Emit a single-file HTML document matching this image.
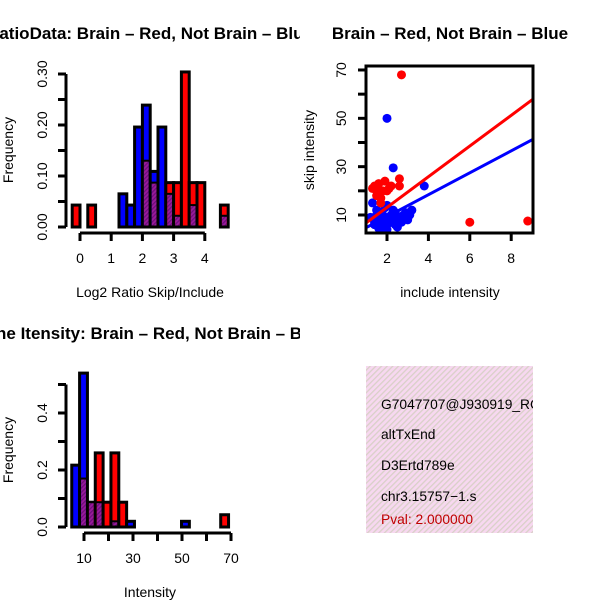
<!DOCTYPE html>
<html><head><meta charset="utf-8"><style>
html,body{margin:0;padding:0;background:#fff;}
svg{display:block;font-family:"Liberation Sans",sans-serif;}
</style></head><body>
<svg id="c" width="600" height="600" viewBox="0 0 600 600">
<defs>
<clipPath id="clipL"><rect x="0" y="0" width="300" height="600"/></clipPath>
<clipPath id="clipP"><rect x="366" y="366" width="167" height="167"/></clipPath>
<clipPath id="clipS"><rect x="366" y="66" width="167" height="167"/></clipPath>
<pattern id="hatch" width="4" height="4" patternUnits="userSpaceOnUse" patternTransform="rotate(45)">
<rect width="4" height="4" fill="#f7d8f0"/><rect width="1.3" height="4" fill="#d9d0c8"/></pattern>
<pattern id="purp" width="3" height="3" patternUnits="userSpaceOnUse" patternTransform="rotate(45)">
<rect width="3" height="3" fill="#9a1a9a"/><rect width="1.2" height="3" fill="#6a0f7a"/></pattern>
</defs>
<g id="g1"></g><g id="g2"></g><g id="g3"></g>
<g>
<rect x="366" y="366" width="167" height="167" fill="url(#hatch)"/>
<g clip-path="url(#clipP)" font-size="13.8">
<text x="381" y="409">G7047707@J930919_RC</text>
<text x="381" y="439">altTxEnd</text>
<text x="381" y="470">D3Ertd789e</text>
<text x="381" y="501">chr3.15757−1.s</text>
<text x="381" y="524" fill="#c00000">Pval: 2.000000</text>
</g></g>
</svg>
<script>
// Ratio histogram (bins of 0.25 starting at -0.25)
const ratioBinStart=-0.25, ratioBinW=0.25;
const ratioRed=[0.043,0,0.043,0,0,0,0,0,0,0.13,0.087,0,0.087,0.087,0.304,0.087,0.087,0,0,0.043];
const ratioBlue=[0,0,0,0,0,0,0.065,0.043,0.196,0.239,0.109,0.196,0.065,0.022,0,0.043,0,0,0,0.022];
const ratioXTicks=[0,1,2,3,4];
const ratioYTicks=[0,0.05,0.10,0.15,0.20,0.25,0.30];
const ratioYLabels=["0.00","","0.10","","0.20","","0.30"];
// Intensity histogram (bins of 3.2 starting at 5)
const intBinStart=5, intBinW=3.2;
const intRed=[0,0.17,0.087,0.26,0.087,0.26,0.087,0,0,0,0,0,0,0,0,0,0,0,0,0.043];
const intBlue=[0.217,0.54,0.087,0.087,0,0.02,0,0.02,0,0,0,0,0,0,0.02,0,0,0,0,0];
const intXTicks=[10,20,30,40,50,60,70];
const intXLabels=["10","","30","","50","","70"];
const intYTicks=[0,0.1,0.2,0.3,0.4,0.5];
const intYLabels=["0.0","","0.2","","0.4",""];
// Scatter
const redX=[2.7,6.0,8.8,2.6,2.6,1.9,1.6,1.4,1.5,1.8,2.1,1.7,1.5,1.7,2.0,1.3,2.2];
const redY=[68,7,7.5,25,22,24,23,22,20,20,21,17,18,15,20,21,22];
const blueX=[2.0,2.3,3.8,3.2,1.3,2.0,1.5,1.7,1.9,2.1,2.2,2.4,2.5,2.6,2.8,3.0,1.4,1.6,1.8,2.0,2.2,2.4,1.2,1.5,1.7,1.9,2.3,2.7,2.9,1.8,2.1,2.5,1.6,2.0,1.4,2.6,3.1];
const blueY=[50,29.5,22,12,15,14,10,8,9,7,10,11,8,9,10,8,7,6,5,6,7,6,9,12,11,13,12,7,11,10,9,5,4.5,4,6,8,10];
const redLine=[[1.0,6.8],[9.05,57.9]];
const blueLine=[[1.0,4.8],[9.05,41.3]];
const scXTicks=[2,4,6,8];
const scYTicks=[10,20,30,40,50,60,70];
const scYLabels=["10","","30","","50","","70"];

const NS="http://www.w3.org/2000/svg";
function mk(p,tag,at){const e=document.createElementNS(NS,tag);for(const k in at)e.setAttribute(k,at[k]);p.appendChild(e);return e;}
function txt(p,x,y,s,at){const e=mk(p,'text',Object.assign({x:x,y:y},at||{}));e.textContent=s;return e;}
const FS='14', TS='17';

function hist(g,o){
  const sx=v=>o.x0+(v-o.xv0)*o.xs, sy=v=>o.y0-v*o.ys;
  const clip=mk(g,'g',{'clip-path':'url(#clipL)'});
  const t=txt(clip,150,o.titleY,o.title,{'font-size':TS,'font-weight':'bold','text-anchor':'middle'});
  
  for(let i=0;i<o.red.length;i++){
    const a=o.start+i*o.w,b=a+o.w,r=o.red[i],bl=o.blue[i];
    const top=Math.max(r,bl),lo=Math.min(r,bl);
    if(top<=0)continue;
    const x=sx(a),wd=sx(b)-sx(a);
    const bar=mk(g,'rect',{x:x,y:sy(top),width:wd,height:sy(0)-sy(top),fill:r>=bl?'#ff0000':'#0000ff',stroke:'#000','stroke-width':3});
    
    
    if(lo>0){
      const pr=mk(g,'rect',{x:x+1.5,y:sy(lo),width:wd-3,height:sy(0)-sy(lo)-1.5,fill:'url(#purp)'});
      
      
      mk(g,'line',{x1:x,x2:x+wd,y1:sy(lo),y2:sy(lo),stroke:'#000','stroke-width':2});
    }
  }
  const ya=mk(g,'g',{});
  mk(ya,'line',{x1:o.yAxisX,x2:o.yAxisX,y1:sy(o.yT[0]),y2:sy(o.yT[o.yT.length-1]),stroke:'#000','stroke-width':3});
  o.yT.forEach((v,i)=>{mk(ya,'line',{x1:o.yAxisX-8,x2:o.yAxisX,y1:sy(v),y2:sy(v),stroke:'#000','stroke-width':3});
    if(o.yL[i])txt(ya,0,0,o.yL[i],{'font-size':FS,'text-anchor':'middle',transform:`translate(${o.yAxisX-19},${sy(v)}) rotate(-90)`});});
  const xa=mk(g,'g',{});
  mk(xa,'line',{x1:sx(o.xT[0]),x2:sx(o.xT[o.xT.length-1]),y1:o.xAxisY,y2:o.xAxisY,stroke:'#000','stroke-width':3});
  o.xT.forEach((v,i)=>{mk(xa,'line',{x1:sx(v),x2:sx(v),y1:o.xAxisY,y2:o.xAxisY+8,stroke:'#000','stroke-width':3});
    if(o.xL[i])txt(xa,sx(v),o.xAxisY+30,o.xL[i],{'font-size':FS,'text-anchor':'middle'});});
  const xt=txt(g,150,o.xTitleY,o.xTitle,{'font-size':FS,'text-anchor':'middle'});
  
  const yt=txt(g,0,0,'Frequency',{'font-size':FS,'text-anchor':'middle',transform:`translate(13,${o.yTitleY}) rotate(-90)`});
  
}
hist(document.getElementById('g1'),{title:'RatioData: Brain – Red, Not Brain – Blue',titleY:39,red:ratioRed,blue:ratioBlue,start:ratioBinStart,w:ratioBinW,
  x0:80,xv0:0,xs:31.2,y0:227,ys:510,xT:ratioXTicks,xL:ratioXTicks.map(String),yT:ratioYTicks,yL:ratioYLabels,yAxisX:66,xAxisY:233,
  xTitle:'Log2 Ratio Skip/Include',xTitleY:297,yTitleY:150});
hist(document.getElementById('g2'),{title:'Gene Itensity: Brain – Red, Not Brain – Blue',titleY:339,red:intRed,blue:intBlue,start:intBinStart,w:intBinW,
  x0:84,xv0:10,xs:2.45,y0:527,ys:285,xT:intXTicks,xL:intXLabels,yT:intYTicks,yL:intYLabels,yAxisX:66,xAxisY:533,
  xTitle:'Intensity',xTitleY:597,yTitleY:450});

(function(){
  const g=document.getElementById('g3');
  const sx=v=>387+(v-2)*20.7, sy=v=>215-(v-10)*2.417;
  const t=txt(g,450,39,'Brain – Red, Not Brain – Blue',{'font-size':TS,'font-weight':'bold','text-anchor':'middle'});
  
  const cg=mk(g,'g',{'clip-path':'url(#clipS)'});
  blueX.forEach((x,i)=>{const c=mk(cg,'circle',{cx:sx(x),cy:sy(blueY[i]),r:4.5,fill:'#0000ff'});
    });
  redX.forEach((x,i)=>{const c=mk(cg,'circle',{cx:sx(x),cy:sy(redY[i]),r:4.5,fill:'#ff0000'});
    });
  const bl=mk(cg,'line',{x1:sx(blueLine[0][0]),y1:sy(blueLine[0][1]),x2:sx(blueLine[1][0]),y2:sy(blueLine[1][1]),stroke:'#0000ff','stroke-width':3});
  
  const rl=mk(cg,'line',{x1:sx(redLine[0][0]),y1:sy(redLine[0][1]),x2:sx(redLine[1][0]),y2:sy(redLine[1][1]),stroke:'#ff0000','stroke-width':3});
  
  const box=mk(g,'rect',{x:366,y:66,width:167,height:167,fill:'none',stroke:'#000','stroke-width':3});
  
  const xa=mk(g,'g',{});
  scXTicks.forEach(v=>{mk(xa,'line',{x1:sx(v),x2:sx(v),y1:233,y2:241,stroke:'#000','stroke-width':3});
    txt(xa,sx(v),263,String(v),{'font-size':FS,'text-anchor':'middle'});});
  const ya=mk(g,'g',{});
  scYTicks.forEach((v,i)=>{mk(ya,'line',{x1:358,x2:366,y1:sy(v),y2:sy(v),stroke:'#000','stroke-width':3});
    if(scYLabels[i])txt(ya,0,0,scYLabels[i],{'font-size':FS,'text-anchor':'middle',transform:`translate(346,${sy(v)}) rotate(-90)`});});
  const xt=txt(g,450,297,'include intensity',{'font-size':FS,'text-anchor':'middle'});
  
  const yt=txt(g,0,0,'skip intensity',{'font-size':FS,'text-anchor':'middle',transform:'translate(314,150) rotate(-90)'});
  
})();
</script>
</body></html>
